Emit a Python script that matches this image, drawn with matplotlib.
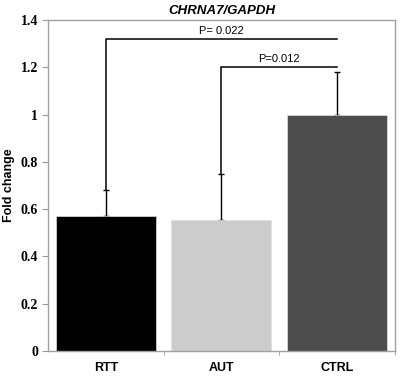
import matplotlib
matplotlib.use("Agg")
import matplotlib.pyplot as plt
import numpy as np

categories = ["RTT", "AUT", "CTRL"]
values = [0.57, 0.554, 1.0]
errors = [0.11, 0.196, 0.18]
colors = ["#000000", "#cccccc", "#4d4d4d"]
yticks = [0, 0.2, 0.4, 0.6, 0.8, 1, 1.2, 1.4]
ytick_labels = ["0", "0.2", "0.4", "0.6", "0.8", "1", "1.2", "1.4"]
comparisons = [(0, 2, 1.32, "P= 0.022"), (1, 2, 1.2, "P=0.012")]

fig = plt.figure(figsize=(4.03, 3.77), dpi=100)
ax = fig.add_axes([0.119, 0.069, 0.861, 0.878])

x = np.arange(len(categories))
ax.errorbar(x, values, yerr=[np.zeros(len(errors)), errors], fmt="none",
            ecolor="black", elinewidth=1.0, capsize=2, capthick=1.0, zorder=1)
ax.bar(x, values, width=0.865, color=colors, edgecolor="#e0e0e0", linewidth=0.5, zorder=2)

for i, j, h, label in comparisons:
    top_i = values[i] + errors[i]
    ax.plot([x[i], x[i], x[j]], [top_i, h, h], color="black", lw=1.1, zorder=4)
    ax.text((x[i] + x[j]) / 2, h + 0.012, label, ha="center", va="bottom",
            fontsize=8, family="Liberation Sans")

ax.set_xlim(-0.5, 2.5)
ax.set_ylim(0, 1.4)
ax.set_yticks(yticks)
ax.set_yticklabels(ytick_labels, family="Liberation Serif", fontweight="bold", fontsize=10)
ax.set_xticks(x)
ax.set_xticklabels(categories, family="Liberation Sans", fontweight="bold", fontsize=9)
ax.set_xticks([0.5, 1.5, 2.5], minor=True)
ax.tick_params(axis="x", which="major", length=0, pad=8)
ax.tick_params(axis="x", which="minor", length=3, color="#999999")
ax.tick_params(axis="y", length=4, color="#999999", pad=3)

for s in ax.spines.values():
    s.set_color("#a0a0a0")
    s.set_linewidth(1.0)

ax.set_ylabel("Fold change", family="Liberation Sans", fontweight="bold", fontsize=9, labelpad=4)
ax.set_title("CHRNA7/GAPDH", family="Liberation Sans", fontweight="bold", style="italic",
             fontsize=9.5, pad=4)

fig.savefig("out.png", dpi=100)
